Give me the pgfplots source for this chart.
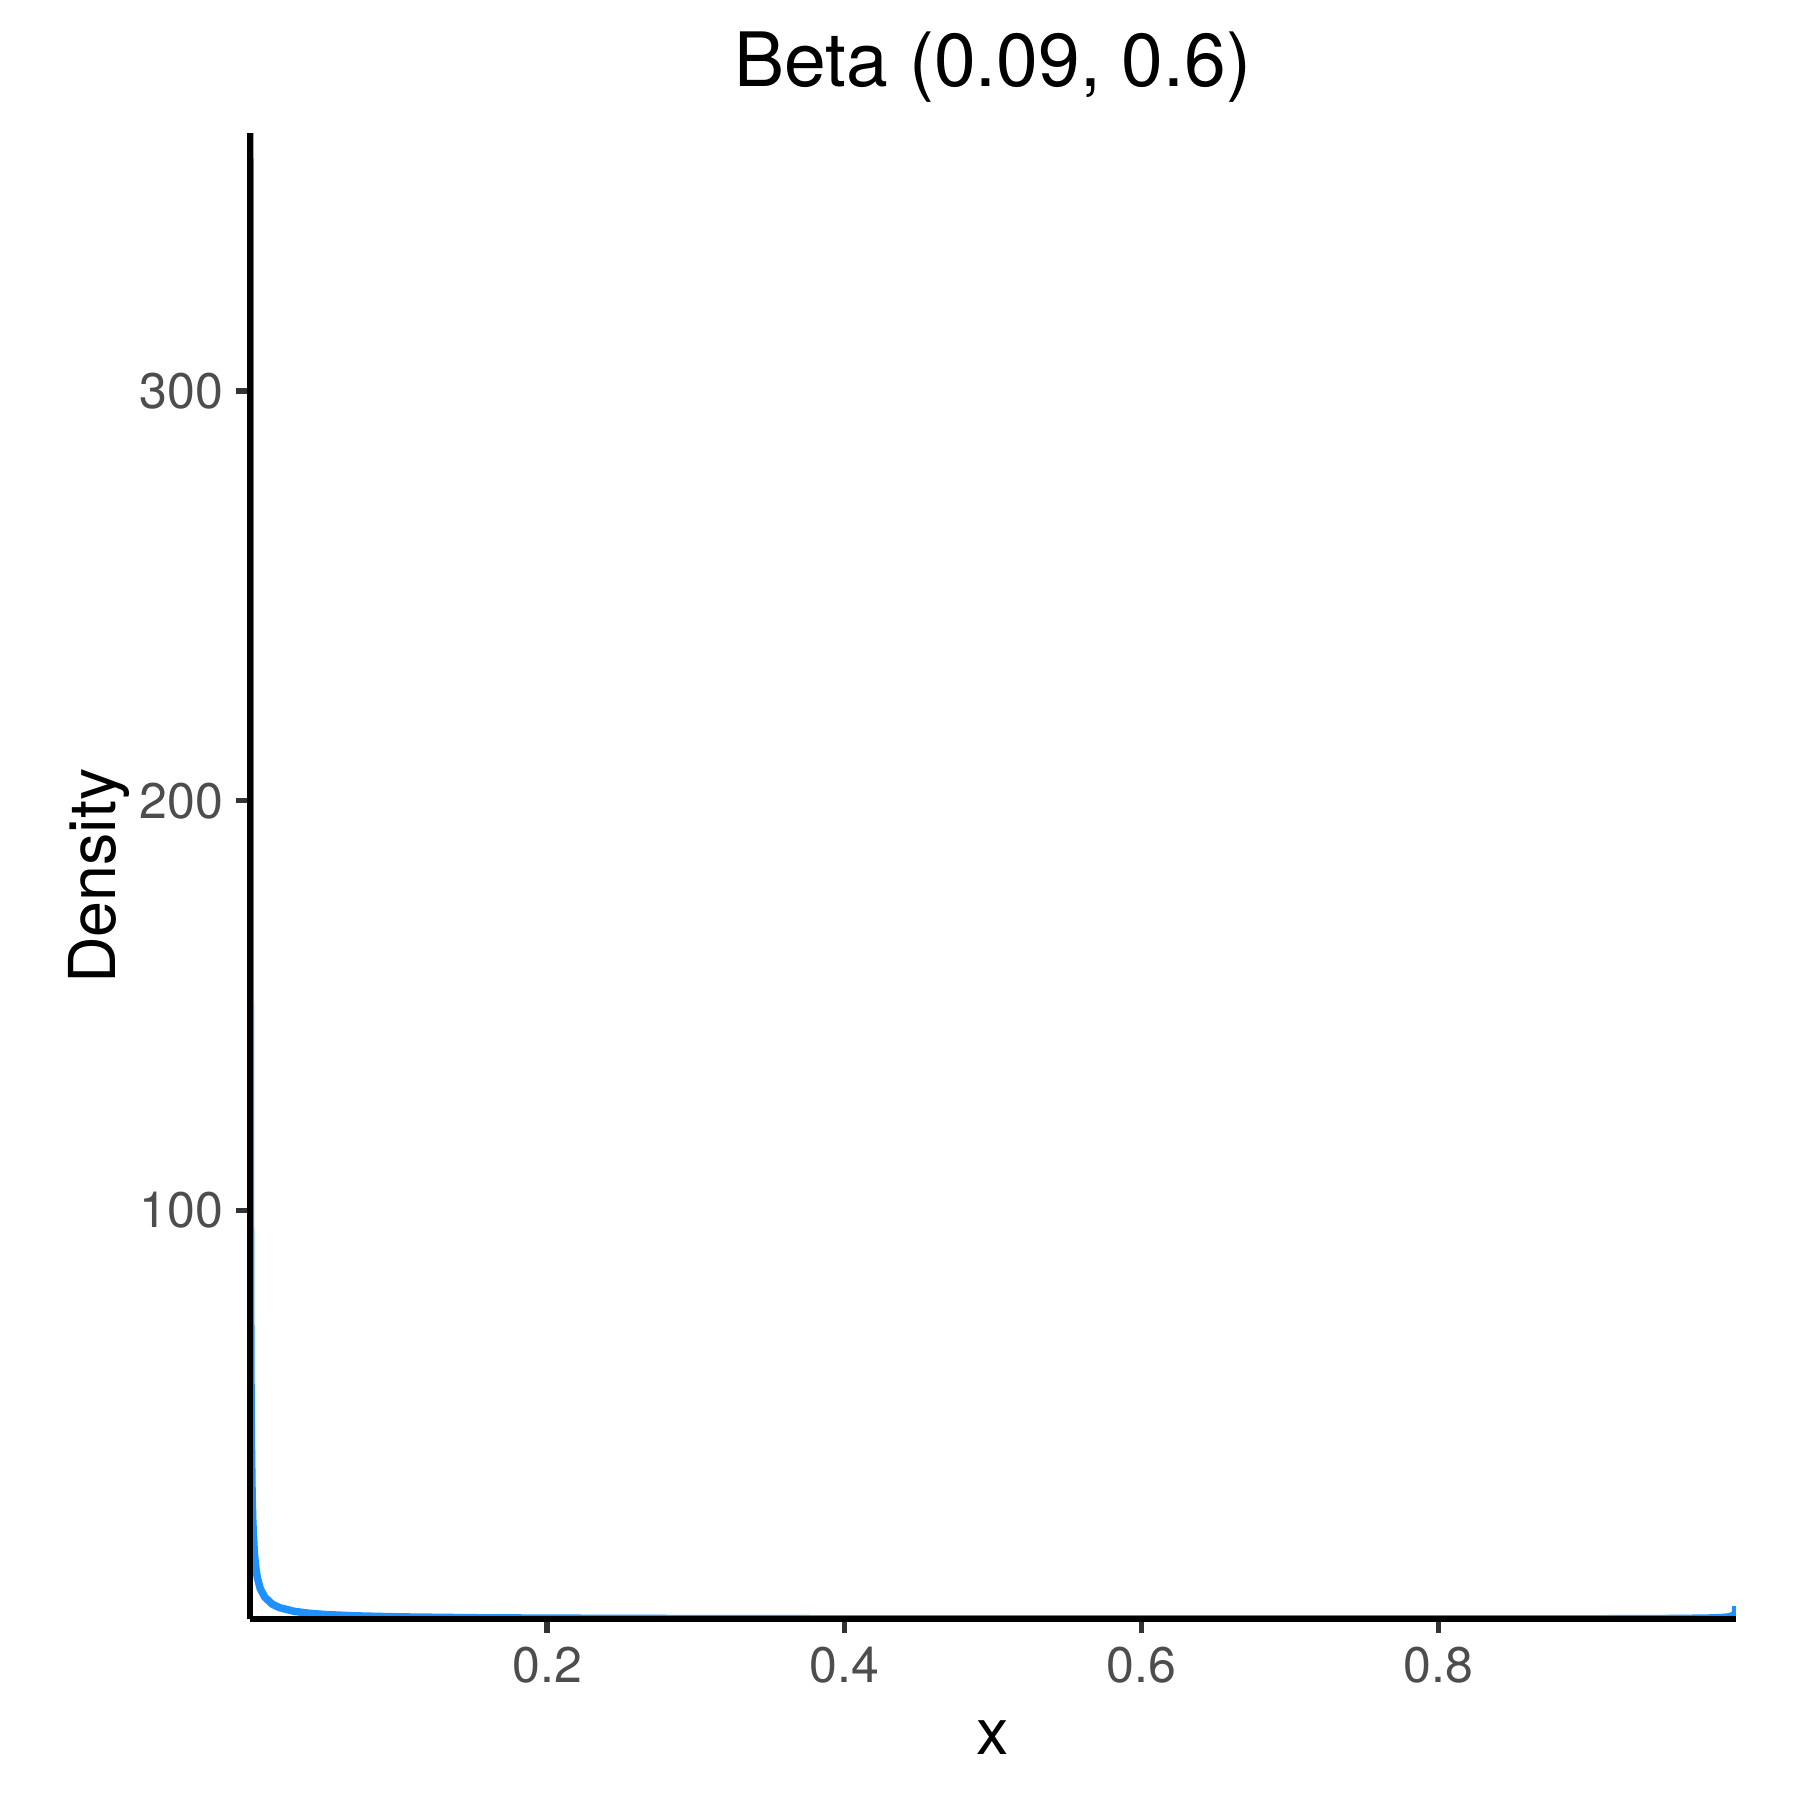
\documentclass[border=0pt]{standalone}
\usepackage{fontspec}
\setmainfont{TeX Gyre Heros}
\usepackage{pgfplots}
\pgfplotsset{compat=1.18}
\definecolor{curveblue}{RGB}{30,144,255}
\definecolor{ticklab}{RGB}{77,77,77}
\definecolor{tickcol}{RGB}{51,51,51}
\begin{document}
\begin{tikzpicture}
% full canvas, panel lower left corner at origin
\path[use as bounding box] (-60bp,-43.44bp) rectangle (372bp,388.56bp);
\begin{axis}[
  at={(0,0)}, anchor=south west,
  scale only axis, width=356.6bp, height=356.6bp,
  xmin=0.0001, xmax=0.9999, ymin=0.186, ymax=363,
  axis on top,
  axis lines=left,
  axis line style={-, line width=1.44bp, black, line cap=butt},
  tick align=outside, major tick length=3.36bp,
  tick style={line width=1.3bp, tickcol},
  xtick={0.2,0.4,0.6,0.8}, xticklabels={0.2,0.4,0.6,0.8},
  ytick={100,200,300}, yticklabels={100,200,300},
  /pgf/number format/assume math mode=true,
  tick label style={font=\fontsize{12bp}{14bp}\selectfont, text=ticklab, inner sep=0pt},
  xticklabel style={anchor=north, yshift=-3.2bp},
  yticklabel style={anchor=east, xshift=-2.9bp},
]
\addplot[curveblue, line width=1.8bp, line join=round, no marks] coordinates {
(0.0001,363.0) (0.00015,251.0) (0.0002,193.4) (0.0003,133.7) (0.0004,102.9)
(0.0005,83.94) (0.0007,61.78) (0.001,44.66) (0.0015,30.90) (0.002,23.80)
(0.003,16.46) (0.004,12.67) (0.005,10.34) (0.007,7.62) (0.01,5.516)
(0.015,3.822) (0.02,2.948) (0.03,2.047) (0.04,1.582) (0.05,1.297)
(0.07,0.963) (0.1,0.705) (0.15,0.499) (0.2,0.393) (0.3,0.287)
(0.4,0.235) (0.5,0.206) (0.6,0.191) (0.7,0.186) (0.8,0.194)
(0.9,0.230) (0.95,0.289) (0.98,0.405) (0.99,0.530) (0.995,0.696)
(0.998,1.001) (0.999,1.319) (0.9995,1.740) (0.9997,2.133) (0.9998,2.51) (0.9999,3.31)
};
\end{axis}
% title and axis titles
\node[anchor=base, inner sep=0pt, font=\fontsize{18bp}{21bp}\selectfont] at (178.3bp,367.8bp) {Beta (0.09, 0.6)};
\node[anchor=base, inner sep=0pt, font=\fontsize{15.5bp}{18bp}\selectfont] at (178.3bp,-32.6bp) {x};
\node[anchor=base, rotate=90, inner sep=0pt, font=\fontsize{15.5bp}{18bp}\selectfont] at (-32.4bp,178.3bp) {Density};
\end{tikzpicture}
\end{document}
